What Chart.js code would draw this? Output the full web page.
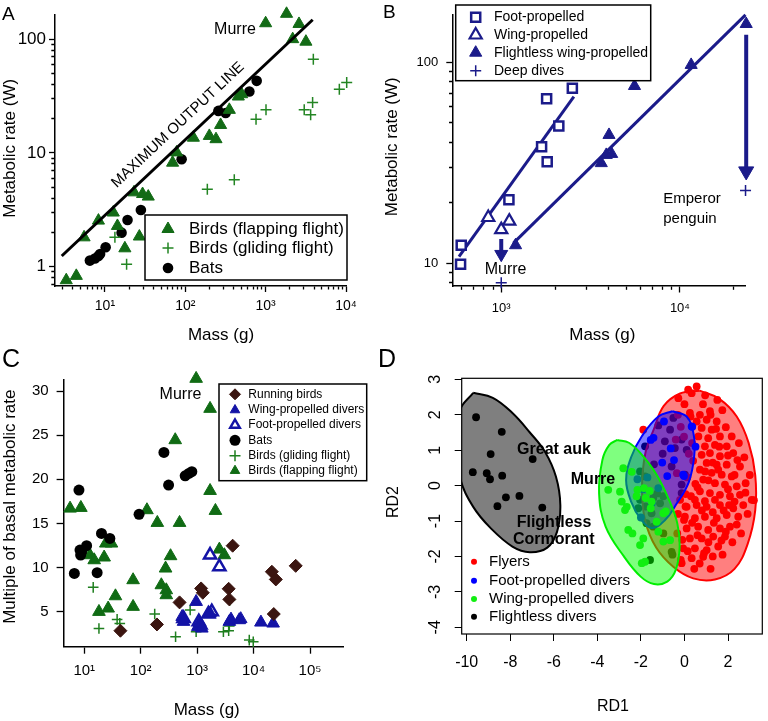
<!DOCTYPE html>
<html>
<head>
<meta charset="utf-8">
<script src="https://cdn.jsdelivr.net/npm/chart.js@4.4.0/dist/chart.umd.min.js"></script>
<style>
  body { margin: 0; background: #fff; width: 768px; height: 721px; position: relative; overflow: hidden;
         font-family: 'Liberation Sans', Arial, sans-serif; }
  canvas { position: absolute; }
  .tag { position: absolute; color: #000; }
</style>
</head>
<body>
<canvas id="chartA" width="384" height="360" style="left:0;top:0"></canvas>
<canvas id="chartB" width="384" height="360" style="left:384px;top:0"></canvas>
<canvas id="chartC" width="384" height="361" style="left:0;top:360px"></canvas>
<canvas id="chartD" width="384" height="361" style="left:384px;top:360px"></canvas>
<div class="tag" style="left:2px;top:4px;font-size:19px;line-height:19px">A</div>
<div class="tag" style="left:383px;top:2px;font-size:19px;line-height:19px">B</div>
<div class="tag" style="left:2px;top:346px;font-size:25px;line-height:25px">C</div>
<div class="tag" style="left:378px;top:346px;font-size:25px;line-height:25px">D</div>
<script>
// ---- A: metabolic rate vs mass ----
const aFlapMass = [3.3, 4.4, 5.5, 8.3, 12.7, 14.3, 17.7, 26.8, 23, 29.4, 34.6, 69.5, 78, 126, 199, 241, 275, 353, 457, 503, 1000, 1820, 2600, 2170, 3170];
const aFlapRate = [0.76, 0.83, 1.81, 2.54, 2.99, 2.28, 1.45, 1.84, 4.5, 4.35, 4.13, 8.2, 10.1, 13.6, 14.1, 13.2, 17.6, 23.9, 31.3, 32.8, 138, 167, 136, 100, 95];
const aGlideMass = [13.3, 18.6, 188, 407, 759, 1010, 3020, 3840, 3630, 3920, 8260, 10200];
const aGlideRate = [1.81, 1.05, 4.8, 5.8, 19.8, 23.9, 23.9, 27.7, 21.6, 66.7, 36.3, 41.6];
const aBatMass = [6.5, 7.5, 8.3, 8.7, 10.2, 16.1, 19.1, 28, 90, 258, 318, 627, 773];
const aBatRate = [1.13, 1.18, 1.24, 1.29, 1.48, 1.99, 2.57, 3.15, 8.8, 23.4, 22.4, 34.7, 43];
const aMaxLineMass = [2.9, 3850];
const aMaxLineRate = [1.24, 148];

// ---- B: divers ----
const bFootMass = [592, 597, 1104, 1682, 1795, 1808, 2100, 2500];
const bFootRate = [9.9, 12.3, 20.7, 38, 65.8, 32, 48.2, 74.3];
const bWingMass = [846, 1000, 1109];
const bWingRate = [16.9, 14.7, 16.2];
const bFlightlessMass = [1203, 3630, 3870, 4150, 4010, 5570, 11560, 23500];
const bFlightlessRate = [12.3, 31.5, 34.6, 35, 43.5, 76.2, 97, 155];
const bDeepMass = [1000, 23300];
const bDeepRate = [8.0, 23];
const bFootFitMass = [580, 2550];
const bFootFitRate = [10.8, 67.5];
const bFlightlessFitMass = [1170, 23300];
const bFlightlessFitRate = [12.6, 172];
const bMurreArrowMass = [1000, 1000];
const bMurreArrowRate = [13.2, 11.1];
const bEmperorArrowMass = [23500, 23500];
const bEmperorArrowRate = [137, 28.7];

// ---- C: multiple of basal metabolic rate ----
const cRunMass = [43.7, 194, 488, 1177, 1260, 3620, 3720, 4260, 21100, 24800, 22800, 55800];
const cRunMult = [2.85, 3.56, 6.06, 7.64, 7.15, 7.6, 6.4, 12.48, 9.53, 8.66, 4.74, 10.2];
const cWingMass = [543, 574, 960, 1027, 1100, 1210, 1695, 3720, 3980, 5580, 13500, 22200, 5920];
const cWingMult = [4.43, 3.87, 6.13, 3.3, 3.68, 3.11, 4.81, 3.87, 4.13, 4.06, 3.79, 3.68, 4.18];
const cFootMass = [574, 1070, 1145, 1695, 2476, 1585, 1815];
const cFootMult = [4.24, 3.87, 3.49, 11.42, 10.1, 4.74, 5.0];
const cBatMass = [6.67, 8.05, 8.4, 8.62, 8.97, 11, 16.9, 20.2, 28.4, 93.5, 258, 312, 614, 713, 805];
const cBatMult = [9.34, 18.78, 11.98, 11.42, 11.8, 12.48, 9.42, 13.87, 13.31, 16.03, 23.05, 19.35, 20.4, 20.67, 20.86];
const cGlideMass = [14.4, 18.2, 38.2, 42.6, 177, 415, 752, 960, 2920, 3620, 3720, 3820, 8390, 9870];
const cGlideMult = [7.76, 3.11, 4.13, 3.68, 4.74, 2.17, 5.19, 2.73, 2.73, 2.85, 3.38, 6.32, 1.79, 1.6];
const cFlapMass = [5.6, 8.7, 12.6, 15, 18.2, 22.5, 24.1, 30.3, 26.5, 35.7, 73.3, 73.3, 129, 197, 232, 276, 284, 284, 338, 409, 488, 960, 1695, 1695, 2108, 2476, 3034];
const cFlapMult = [16.7, 16.78, 11.42, 10.85, 5.0, 11.16, 12.74, 12.74, 5.38, 6.77, 5.57, 8.59, 16.52, 15.08, 8.02, 9.91, 7.45, 6.89, 11.31, 24.45, 15.08, 31.4, 28.0, 18.7, 16.44, 12.06, 11.42];
const cYTicks = [5, 10, 15, 20, 25, 30];

// ---- D: RD1 / RD2 ----
const dFlyRD1 = [0.17, 0.56, 0.33, -0.28, 0.25, 0.71, 1.17, 1.02, 0.56, 1.48, 0.79, 1.25, 0.64, 1.09, 1.63, 2.17, 0.94, 1.40, 1.94, 0.79, 1.17, 1.63, 2.24, 2.55, 1.02, 1.48, 1.94, 0.71, 1.25, 1.71, 2.17, 0.86, 1.40, 1.86, 2.40, 0.71, 1.17, 1.63, 2.09, 2.55, 3.09, 0.48, 0.94, -1.89,
  0.10, 0.56, 1.02, 1.63, 2.24, 2.70, 0.02, 0.48, 0.94, 1.48, 1.94, 2.47, 0.10, 0.63, 1.09, 1.63, 2.09, 0.25, 0.79, 1.32, 1.86, -0.06, 0.48, 1.02, 1.55, 0.33, 0.86, -0.13,
  -0.17, 0.90, -0.33, -0.10, -0.02, 0.05, 0.05, 0.13, -0.17, -0.02, 0.28, 2.81, 3.19, 2.43, 1.74, 1.51, 1.20,
  0.35, 1.60, 2.00, 0.40, 1.30, 2.30, 0.50, 1.10, 2.00, 2.80, 0.30, 1.40, 2.30, 0.80, 1.30, 1.80, 2.40, 0.35, 1.35, 1.90, 0.60, 1.10, 2.20, 0.15, 0.70, 1.30, 1.75, 0.45, 1.20, -0.30,
  -0.20, -0.35, -0.40, -0.30, 0.00, 0.85, 0.95, 1.45, 1.90, 2.50, 2.75, 3.00, 2.90, 2.60, 1.55, 0.95, 2.05, 0.60, 1.70, 0.20];
const dFlyRD2 = [2.71, 2.80, 2.61, 2.47, 2.05, 2.00, 2.10, 1.86, 1.81, 1.81, 1.63, 1.58, 1.39, 1.34, 1.39, 1.39, 1.11, 1.15, 1.11, 0.87, 0.92, 0.83, 0.92, 0.54, 0.64, 0.59, 0.59, 0.45, 0.36, 0.31, 0.26, 0.17, 0.07, 0.03, -0.02, -0.16, -0.21, -0.26, -0.30, -0.26, -0.40, -0.40, -0.44, 1.58,
  -0.60, -0.55, -0.60, -0.55, -0.64, -0.55, -0.88, -0.92, -0.88, -0.92, -0.83, -0.88, -1.21, -1.16, -1.25, -1.21, -1.16, -1.49, -1.49, -1.44, -1.44, -1.77, -1.77, -1.82, -1.72, -2.05, -2.01, -2.19,
  -2.10, -1.91, -1.35, -1.53, -0.97, -0.59, -0.24, 0.23, 1.66, 1.38, 1.95, 0.07, -0.41, 0.72, 2.13, 2.42, 2.00,
  1.20, 1.10, 0.85, 0.70, 0.65, 0.30, 0.05, 0.15, -0.10, -0.20, -0.30, -0.40, -0.45, -0.70, -0.75, -0.70, -1.10, -1.05, -1.05, -1.30, -1.40, -1.60, -1.60, -1.85, -2.20, -2.00, -1.95, -2.35, -2.35, -0.80,
  -0.40, 0.35, 1.30, 2.00, 2.30, 2.30, 2.55, 1.60, 1.65, 1.20, 0.80, 0.30, -0.80, -1.35, 0.45, 0.40, -0.55, -0.05, -1.55, 0.90];
const dFootRD1 = [-0.94, -1.55, -1.42, -0.63, -0.48, 0.36, 0.51, -0.02, -0.79, -1.02, -1.70, -2.16, -1.90, -1.20, -1.50, -2.00, 0.33, -0.06];
const dFootRD2 = [1.81, 1.29, 1.35, 1.05, 0.72, 1.66, 1.10, 0.27, 0.27, 0.65, 0.23, 0.18, -0.10, -0.07, -0.50, -0.90, 1.67, 0.31];
const dWingRD1 = [-2.81, -2.42, -3.50, -2.96, -2.88, -2.73, -2.58, -2.39, -1.89, -2.04, -1.81, -1.96, -0.97, -0.66, -1.51, -0.97, -1.28, -2.16, -1.86, -1.78, -1.55, -0.86, -2.20, -1.60, -2.65, -1.20];
const dWingRD2 = [0.49, 0.39, -0.12, -0.17, -0.45, -0.69, -1.25, -1.35, -1.49, -1.68, -2.15, -2.19, -1.58, -1.54, -0.45, -0.78, -1.02, -0.12, -0.07, -0.35, -0.64, -0.73, -0.30, -0.15, -0.60, -1.30];
const dFlightRD1 = [-9.57, -8.39, -8.90, -6.97, -9.72, -9.08, -8.93, -8.37, -8.20, -7.58, -8.59, -6.53,
  -0.51, -0.66, -0.13, 0.10, -0.44, -0.59, 0.02, -0.13, -0.13, -1.81, -2.04, -1.81, -2.04, -1.43, -0.97, -1.12, -1.51, -1.74, -1.43, -0.59, -0.55, -1.58, -0.97, -2.12, -1.78, -1.25, -1.00, -1.40, -0.90, -1.20];
const dFlightRD2 = [1.93, 1.52, 0.89, 0.75, 0.38, 0.35, 0.18, 0.28, -0.33, -0.29, -0.58, -0.62,
  1.91, 1.58, 1.30, 1.01, 1.06, 0.54, 0.31, 0.03, -0.21, 1.11, 0.40, 0.26, -0.40, -0.35, -0.30, -0.50, -0.78, -1.06, -1.16, -1.87, -1.95, -2.10, -1.35, -0.64, -0.59, -0.22, 0.90, 0.60, 1.25, 1.70];
// ellipse outlines
const dFlyEllX = [0.7, 1.6, 2.4, 2.95, 3.25, 3.25, 2.9, 2.3, 1.4, 0.4, -0.5, -1.3, -1.8, -1.95, -1.8, -1.4, -0.95, -0.2, 0.7];
const dFlyEllY = [2.68, 2.45, 1.95, 1.2, 0.3, -0.7, -1.65, -2.35, -2.65, -2.62, -2.3, -1.75, -1.0, -0.1, 0.9, 1.6, 2.25, 2.6, 2.68];
const dFootEllX = [-0.55, 0.1, 0.42, 0.45, 0.2, -0.4, -0.9, -1.5, -2.0, -2.45, -2.68, -2.45, -1.95, -1.2, -0.55];
const dFootEllY = [2.1, 1.95, 1.45, 0.85, 0.1, -0.55, -0.98, -1.2, -0.95, -0.45, 0.15, 0.8, 1.4, 1.95, 2.1];
const dWingEllX = [-3.08, -2.55, -2.01, -1.32, -0.71, -0.33, -0.22, -0.40, -0.79, -1.40, -2.01, -2.78, -3.62, -3.92, -3.77, -3.45, -3.08];
const dWingEllY = [1.29, 1.21, 0.91, 0.35, -0.40, -1.06, -1.72, -2.38, -2.71, -2.78, -2.57, -2.0, -1.16, -0.22, 0.72, 1.15, 1.29];
const dFlightEllX = [-9.7, -8.8, -7.9, -7.1, -6.4, -5.9, -5.7, -5.85, -6.3, -7.1, -7.9, -8.9, -9.7, -10.3, -10.5, -10.3, -9.7];
const dFlightEllY = [2.62, 2.48, 2.05, 1.5, 0.95, 0.25, -0.55, -1.3, -1.75, -1.88, -1.72, -1.2, -0.6, 0.2, 1.2, 2.15, 2.62];
const dXTicks = [-10, -8, -6, -4, -2, 0, 2];
const dYTicks = [-4, -3, -2, -1, 0, 1, 2, 3];

// ---------- helpers ----------
const FONT = "'Liberation Sans', Arial, sans-serif";
Chart.defaults.font.family = FONT;
Chart.defaults.color = '#000';

const SUP = { '0': '⁰', '1': '¹', '2': '²', '3': '³', '4': '⁴', '5': '⁵' };
const pow10 = v => '10' + String(Math.round(Math.log10(v))).split('').map(c => SUP[c]).join('');
const plain = v => String(Math.round(v));
const pts = (xs, ys) => xs.map((x, i) => ({ x, y: ys[i] }));

function logTicks(min, max, minor) {
  const out = [];
  for (let e = Math.floor(Math.log10(min)); e <= Math.ceil(Math.log10(max)); e++) {
    for (let m = 1; m <= 9; m++) {
      if (!minor && m > 1) break;
      const v = m * Math.pow(10, e);
      if (v >= min && v <= max) out.push({ value: v, major: m === 1 });
    }
  }
  return out;
}

function fixSize(pos, size) {
  return s => {
    if (pos === 'left') s.width = size; else s.height = size;
    s.paddingLeft = s.paddingRight = s.paddingTop = s.paddingBottom = 0;
  };
}

// Igor style axis: outside ticks, short minor ticks, labels on decades only
function logAxis(pos, min, max, o) {
  const len = o.tl, m = o.minor || 3;
  return {
    type: 'logarithmic', position: pos, min, max,
    border: { display: true, color: '#000', width: 1.5 },
    grid: {
      drawOnChartArea: false, drawTicks: true, tickLength: len, tickColor: '#000', tickWidth: 1.3,
      tickBorderDash: c => (c.tick && c.tick.major) ? [] : (pos === 'left' ? [0.01, len - m - 0.7, m, 60] : [m, 60])
    },
    ticks: {
      autoSkip: false, maxRotation: 0, padding: o.pad, color: '#000', font: { size: o.fs },
      callback: (v, i, t) => (t[i] && t[i].major) ? o.fmt(v) : ''
    },
    afterBuildTicks: s => { s.ticks = logTicks(min, max, o.minorTicks !== false); },
    afterFit: fixSize(pos, o.size)
  };
}

function linAxis(pos, min, max, tickVals, o) {
  return {
    type: 'linear', position: pos, min, max,
    border: { display: o.border !== false, color: '#000', width: 1.5 },
    grid: { drawOnChartArea: false, drawTicks: true, tickLength: o.tl, tickColor: '#000', tickWidth: o.tw || 1.3 },
    ticks: Object.assign({ autoSkip: false, maxRotation: 0, padding: o.pad, color: '#000', font: { size: o.fs } }, o.ticks || {}),
    afterBuildTicks: s => { s.ticks = tickVals.map(v => ({ value: v })); },
    afterFit: fixSize(pos, o.size)
  };
}

function drawSym(ctx, style, x, y, r, fill, stroke, lw) {
  ctx.save();
  ctx.beginPath();
  if (style === 'triangle') {
    ctx.moveTo(x, y - r); ctx.lineTo(x + r * 0.866, y + r * 0.5); ctx.lineTo(x - r * 0.866, y + r * 0.5); ctx.closePath();
  } else if (style === 'rect') {
    const h = r * Math.SQRT1_2; ctx.rect(x - h, y - h, 2 * h, 2 * h);
  } else if (style === 'rectRot') {
    ctx.moveTo(x, y - r); ctx.lineTo(x + r, y); ctx.lineTo(x, y + r); ctx.lineTo(x - r, y); ctx.closePath();
  } else if (style === 'cross') {
    ctx.moveTo(x - r, y); ctx.lineTo(x + r, y); ctx.moveTo(x, y - r); ctx.lineTo(x, y + r);
  } else {
    ctx.arc(x, y, r, 0, Math.PI * 2);
  }
  ctx.fillStyle = fill; ctx.strokeStyle = stroke; ctx.lineWidth = lw;
  if (style !== 'cross') ctx.fill();
  if (lw > 0) ctx.stroke();
  ctx.restore();
}

function keyPlugin(cfg) {
  return {
    id: 'key',
    afterDraw(chart) {
      const ctx = chart.ctx;
      if (cfg.box) {
        ctx.save();
        ctx.fillStyle = '#fff'; ctx.fillRect(...cfg.box);
        ctx.strokeStyle = '#000'; ctx.lineWidth = cfg.boxLw || 1.5; ctx.strokeRect(...cfg.box);
        ctx.restore();
      }
      cfg.sets.forEach((idx, i) => {
        const ds = chart.data.datasets[idx];
        const y = cfg.rows[i];
        drawSym(ctx, ds.pointStyle, cfg.symX, y, cfg.r || ds.pointRadius, ds.backgroundColor, ds.borderColor, ds.borderWidth);
        ctx.save();
        ctx.font = cfg.font; ctx.fillStyle = '#000'; ctx.textAlign = 'left'; ctx.textBaseline = 'middle';
        ctx.fillText(ds.label, cfg.textX, y);
        ctx.restore();
      });
    }
  };
}

function notesPlugin(items) {
  return {
    id: 'notes',
    afterDraw(chart) {
      const ctx = chart.ctx, sx = chart.scales.x, sy = chart.scales.y;
      items.forEach(n => {
        const px = n.px !== undefined ? n.px : sx.getPixelForValue(n.x);
        const py = n.py !== undefined ? n.py : sy.getPixelForValue(n.y);
        ctx.save();
        ctx.translate(px, py);
        if (n.rot) ctx.rotate(n.rot * Math.PI / 180);
        ctx.font = n.font; ctx.fillStyle = n.color || '#000';
        ctx.textAlign = n.align || 'center'; ctx.textBaseline = 'middle';
        ctx.fillText(n.text, 0, 0);
        ctx.restore();
      });
    }
  };
}

const framePlugin = {
  id: 'frame',
  afterDraw(chart) {
    const a = chart.chartArea, ctx = chart.ctx;
    ctx.save(); ctx.strokeStyle = '#000'; ctx.lineWidth = 1.2;
    ctx.strokeRect(a.left, a.top, a.right - a.left, a.bottom - a.top);
    ctx.restore();
  }
};

function baseOptions(top, right, scales) {
  return {
    responsive: false, animation: false, events: [],
    layout: { padding: { left: 0, top, right, bottom: 0 } },
    plugins: { legend: { display: false }, tooltip: { enabled: false } },
    scales
  };
}

// ---------- A ----------
const GREEN = '#136b16', GLIDE = '#238523';
new Chart(document.getElementById('chartA'), {
  type: 'scatter',
  data: { datasets: [
    { label: 'Maximum output line', type: 'line', data: pts(aMaxLineMass, aMaxLineRate), borderColor: '#000', borderWidth: 3, pointRadius: 0 },
    { label: 'Birds (flapping flight)', data: pts(aFlapMass, aFlapRate), pointStyle: 'triangle', pointRadius: 7, backgroundColor: GREEN, borderColor: GREEN, borderWidth: 1, clip: false },
    { label: 'Birds (gliding flight)', data: pts(aGlideMass, aGlideRate), pointStyle: 'cross', pointRadius: 5.5, backgroundColor: GLIDE, borderColor: GLIDE, borderWidth: 1.5, clip: false },
    { label: 'Bats', data: pts(aBatMass, aBatRate), pointStyle: 'circle', pointRadius: 5.3, backgroundColor: '#000', borderColor: '#000', borderWidth: 0, clip: false }
  ]},
  options: baseOptions(15, 37.3, {
    x: logAxis('bottom', 2.39, 10200, { tl: 6, minor: 3, pad: 6, fs: 14, fmt: pow10, size: 74 }),
    y: logAxis('left', 0.676, 163, { tl: 6, minor: 3, pad: 3, fs: 17, fmt: plain, size: 55 })
  }),
  plugins: [
    keyPlugin({ box: [145, 215, 202, 65], sets: [1, 2, 3], rows: [229, 248, 268], symX: 168, textX: 189, font: '17px ' + FONT }),
    notesPlugin([
      { text: 'Murre', x: 415, y: 122.5, font: '16px ' + FONT },
      { text: 'MAXIMUM OUTPUT LINE', x: 81, y: 17.6, rot: -43.2, font: '15px ' + FONT },
      { text: 'Metabolic rate (W)', px: 10, py: 148.3, rot: -90, font: '17px ' + FONT },
      { text: 'Mass (g)', px: 221, py: 335, font: '17px ' + FONT }
    ])
  ]
});

// ---------- B ----------
const NAVY = '#1b1b8a';
new Chart(document.getElementById('chartB'), {
  type: 'scatter',
  data: { datasets: [
    { label: 'Foot-propelled', data: pts(bFootMass, bFootRate), pointStyle: 'rect', pointRadius: 6.4, backgroundColor: '#fff', borderColor: NAVY, borderWidth: 2.5, clip: false },
    { label: 'Wing-propelled', data: pts(bWingMass, bWingRate), pointStyle: 'triangle', pointRadius: 7, backgroundColor: '#fff', borderColor: NAVY, borderWidth: 2.2, clip: false },
    { label: 'Flightless wing-propelled', data: pts(bFlightlessMass, bFlightlessRate), pointStyle: 'triangle', pointRadius: 7, backgroundColor: NAVY, borderColor: NAVY, borderWidth: 1, clip: false },
    { label: 'Deep dives', data: pts(bDeepMass, bDeepRate), pointStyle: 'cross', pointRadius: 5.5, backgroundColor: NAVY, borderColor: NAVY, borderWidth: 1.5, clip: false },
    { label: 'Foot-propelled fit', type: 'line', data: pts(bFootFitMass, bFootFitRate), borderColor: NAVY, borderWidth: 3, pointRadius: 0, order: 5 },
    { label: 'Flightless fit', type: 'line', data: pts(bFlightlessFitMass, bFlightlessFitRate), borderColor: NAVY, borderWidth: 3, pointRadius: 0, order: 5, clip: false },
    { label: 'Murre shift', type: 'line', data: pts(bMurreArrowMass, bMurreArrowRate), borderColor: NAVY, backgroundColor: NAVY, borderWidth: 4,
      pointStyle: 'triangle', pointRotation: 180, pointRadius: [0, 7.5], pointBorderWidth: 1 },
    { label: 'Emperor penguin shift', type: 'line', data: pts(bEmperorArrowMass, bEmperorArrowRate), borderColor: NAVY, backgroundColor: NAVY, borderWidth: 4,
      pointStyle: 'triangle', pointRotation: 180, pointRadius: [0, 8.7], pointBorderWidth: 1, clip: false }
  ]},
  options: baseOptions(15, 22.3, {
    x: logAxis('bottom', 537, 23350, { tl: 6.5, minor: 3.3, pad: 8, fs: 13, fmt: pow10, size: 74 }),
    y: logAxis('left', 7.71, 171.8, { tl: 6.7, minor: 3.3, pad: 8, fs: 13, fmt: plain, size: 69 })
  }),
  plugins: [
    keyPlugin({ box: [71.7, 5, 195, 75.7], sets: [0, 1, 2, 3], rows: [17.3, 35, 52.7, 70.7], symX: 91.7, textX: 110, font: '14px ' + FONT }),
    notesPlugin([
      { text: 'Murre', x: 1057, y: 9.27, font: '16px ' + FONT },
      { text: 'Emperor', x: 8070, y: 20.9, align: 'left', font: '15px ' + FONT },
      { text: 'penguin', x: 8070, y: 16.7, align: 'left', font: '15px ' + FONT },
      { text: 'Metabolic rate (W)', px: 8, py: 146.7, rot: -90, font: '17px ' + FONT },
      { text: 'Mass (g)', px: 218.3, py: 335, font: '17px ' + FONT }
    ])
  ]
});

// ---------- C ----------
const BROWN = '#3b1510', BLUE = '#1313a6', CGREEN = '#106b14', CGLIDE = '#1f7f1f';
new Chart(document.getElementById('chartC'), {
  type: 'scatter',
  data: { datasets: [
    { label: 'Running birds', data: pts(cRunMass, cRunMult), pointStyle: 'rectRot', pointRadius: 6.5, backgroundColor: BROWN, borderColor: BROWN, borderWidth: 1, clip: false },
    { label: 'Wing-propelled divers', data: pts(cWingMass, cWingMult), pointStyle: 'triangle', pointRadius: 7.3, backgroundColor: BLUE, borderColor: BLUE, borderWidth: 1, clip: false },
    { label: 'Foot-propelled divers', data: pts(cFootMass, cFootMult), pointStyle: 'triangle', pointRadius: 7, backgroundColor: '#fff', borderColor: BLUE, borderWidth: 2.5, clip: false },
    { label: 'Bats', data: pts(cBatMass, cBatMult), pointStyle: 'circle', pointRadius: 5.5, backgroundColor: '#000', borderColor: '#000', borderWidth: 0, clip: false },
    { label: 'Birds (gliding flight)', data: pts(cGlideMass, cGlideMult), pointStyle: 'cross', pointRadius: 5.3, backgroundColor: CGLIDE, borderColor: CGLIDE, borderWidth: 1.5, clip: false },
    { label: 'Birds (flapping flight)', data: pts(cFlapMass, cFlapMult), pointStyle: 'triangle', pointRadius: 7.3, backgroundColor: CGREEN, borderColor: CGREEN, borderWidth: 1, clip: false }
  ]},
  options: baseOptions(20, 40.7, {
    x: logAxis('bottom', 4.25, 389000, { tl: 7, pad: 8, fs: 15, fmt: pow10, size: 74.3, minorTicks: false }),
    y: linAxis('left', 1.04, 31.25, cYTicks, { tl: 6.7, pad: 8, fs: 15, size: 63.3 })
  }),
  plugins: [
    keyPlugin({ box: [219, 24, 147.7, 96.7], sets: [0, 1, 2, 3, 4, 5], rows: [34.3, 50, 65, 80.3, 95.7, 110.7], symX: 235, textX: 248.3, r: 5.5, font: '12px ' + FONT }),
    notesPlugin([
      { text: 'Murre', x: 507, y: 29.55, font: '16px ' + FONT },
      { text: 'Multiple of basal metabolic rate', px: 10, py: 146.7, rot: -90, font: '17px ' + FONT },
      { text: 'Mass (g)', px: 206.7, py: 350, font: '17px ' + FONT }
    ])
  ]
});

// ---------- D ----------
const ell = (xs, ys, line, fill, order) => ({ type: 'line', data: pts(xs, ys), borderColor: line, backgroundColor: fill, borderWidth: 2,
  pointRadius: 0, tension: 0.4, fill: 'shape', order });
const dots = (label, xs, ys, color, order) => ({ label, data: pts(xs, ys), pointStyle: 'circle', pointRadius: 3.9,
  backgroundColor: color, borderColor: color, borderWidth: 0, order });
new Chart(document.getElementById('chartD'), {
  type: 'scatter',
  data: { datasets: [
    dots('Flyers', dFlyRD1, dFlyRD2, '#ff0000', 6),
    dots('Foot-propelled divers', dFootRD1, dFootRD2, '#0000ff', 4),
    dots('Wing-propelled divers', dWingRD1, dWingRD2, '#11ee11', 2),
    dots('Flightless divers', dFlightRD1, dFlightRD2, '#000000', 8),
    ell(dFlyEllX, dFlyEllY, '#ff0000', 'rgba(255,0,0,0.5)', 7),
    ell(dFootEllX, dFootEllY, '#0000ff', 'rgba(0,0,255,0.5)', 5),
    ell(dWingEllX, dWingEllY, '#00ee00', 'rgba(0,255,0,0.5)', 3),
    ell(dFlightEllX, dFlightEllY, '#000000', 'rgba(0,0,0,0.5)', 1)
  ]},
  options: baseOptions(18.3, 5.7, {
    x: linAxis('bottom', -10.23, 3.575, dXTicks, { tl: 7, tw: 1, pad: 12, fs: 16, size: 87, border: false }),
    y: linAxis('left', -4.19, 3.03, dYTicks, { tl: 7, tw: 1, pad: 12, fs: 16, size: 77.7, border: false,
      ticks: { minRotation: 90, maxRotation: 90, crossAlign: 'center' } })
  }),
  plugins: [
    framePlugin,
    keyPlugin({ sets: [0, 1, 2, 3], rows: [201.7, 220.7, 239, 256.7], symX: 90, textX: 105, r: 3, font: '15px ' + FONT }),
    notesPlugin([
      { text: 'Great auk', x: -5.99, y: 1.02, font: 'bold 16px ' + FONT },
      { text: 'Murre', x: -4.2, y: 0.18, font: 'bold 16px ' + FONT },
      { text: 'Flightless', x: -5.99, y: -1.04, font: 'bold 16px ' + FONT },
      { text: 'Cormorant', x: -6.0, y: -1.52, font: 'bold 16px ' + FONT },
      { text: 'RD2', px: 10, py: 142, rot: -90, font: '16px ' + FONT },
      { text: 'RD1', px: 229, py: 346.7, font: '16px ' + FONT }
    ])
  ]
});
</script>
</body>
</html>
